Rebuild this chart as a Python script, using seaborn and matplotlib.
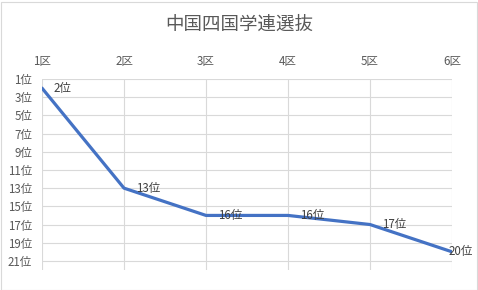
import matplotlib
matplotlib.use("Agg")
import matplotlib.pyplot as plt
import seaborn as sns
import pandas as pd
from matplotlib.patches import Rectangle

sections = ["1区", "2区", "3区", "4区", "5区", "6区"]
ranks = [2, 13, 16, 16, 17, 20]
rank_ticks = [1, 3, 5, 7, 9, 11, 13, 15, 17, 19, 21]
rank_tick_labels = [f"{r}位" for r in rank_ticks]
title = "中国四国学連選抜"

sns.set_theme(style="white")
plt.rcParams["font.family"] = ["Noto Sans CJK JP", "DejaVu Sans"]

df = pd.DataFrame({"section": sections, "rank": ranks})

fig = plt.figure(figsize=(4.78, 2.90), dpi=100)
ax = fig.add_axes([42 / 478, 1 - 270 / 290, (452 - 42) / 478, (270 - 79) / 290])

sns.lineplot(data=df, x="section", y="rank", ax=ax, color="#4472C4",
             linewidth=2.3, sort=False, zorder=3)

ax.set_xlim(0, len(sections) - 1)
ax.set_ylim(22, 1)
ax.set_yticks(rank_ticks)
ax.set_yticklabels(rank_tick_labels)
ax.xaxis.tick_top()
ax.set_xlabel("")
ax.set_ylabel("")
for s in ax.spines.values():
    s.set_visible(False)
ax.tick_params(axis="both", length=0, labelsize=8.3, colors="#595959")
ax.tick_params(axis="y", pad=7)
ax.tick_params(axis="x", pad=8)
ax.grid(True, color="#D9D9D9", linewidth=0.8, zorder=0)
ax.set_axisbelow(True)

n = len(sections)
for i, (sec, r) in enumerate(zip(sections, ranks)):
    dx = 12 if i < n - 1 else -3
    ax.annotate(f"{r}位", (sec, r), xytext=(dx, 0), textcoords="offset pixels",
                ha="left", va="center", fontsize=8.3, color="#404040", zorder=4)

fig.text(0.5, 1 - 25 / 290, title, ha="center", va="center", fontsize=13.3,
         color="#595959")

fig.patches.append(Rectangle((0.5 / 478, 0.5 / 290), 476 / 478, 288 / 290,
                             transform=fig.transFigure, fill=False,
                             edgecolor="#D9D9D9", linewidth=0.8))

fig.savefig("out.png", dpi=100)
